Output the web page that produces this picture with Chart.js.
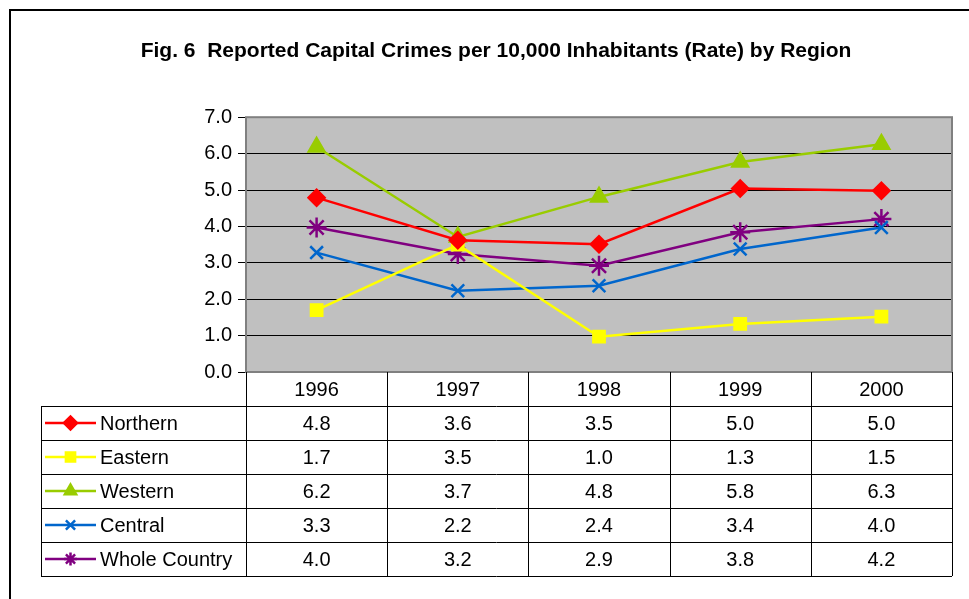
<!DOCTYPE html>
<html>
<head>
<meta charset="utf-8">
<script src="https://cdn.jsdelivr.net/npm/chart.js@4.4.0/dist/chart.umd.min.js"></script>
<style>
  html, body { margin: 0; padding: 0; background: #fff; }
  #wrap { width: 969px; height: 599px; }
</style>
</head>
<body>
<div id="wrap"><canvas id="crimeChart" width="969" height="599"></canvas></div>
<script>
var years = ['1996', '1997', '1998', '1999', '2000'];
var northern = [4.79, 3.62, 3.51, 5.04, 4.98];
var eastern = [1.70, 3.50, 0.97, 1.32, 1.52];
var western = [6.18, 3.71, 4.81, 5.77, 6.26];
var central = [3.28, 2.23, 2.37, 3.38, 3.97];
var wholeCountry = [3.97, 3.24, 2.92, 3.84, 4.20];
var yTicks = [0, 1, 2, 3, 4, 5, 6, 7];

var FONT = '"Liberation Sans", Arial, sans-serif';

function series(label, values, color, style, radius) {
    return {
        label: label,
        data: values,
        borderColor: color,
        backgroundColor: color,
        borderWidth: 2.5,
        pointStyle: style,
        pointRadius: radius,
        pointBorderColor: color,
        pointBackgroundColor: color,
        pointBorderWidth: 2.5,
        tension: 0
    };
}

var datasets = [
    series('Northern', northern, '#FF0000', 'rectRot', 8),
    series('Eastern', eastern, '#FFFF00', 'rect', 8),
    series('Western', western, '#99CC00', 'triangle', 9),
    series('Central', central, '#0066CC', 'crossRot', 9),
    series('Whole Country', wholeCountry, '#800080', 'star', 10)
];

// gray plot area, frame around the whole figure
var backdrop = {
    id: 'backdrop',
    beforeDraw: function (chart) {
        var c = chart.ctx, a = chart.chartArea;
        c.save();
        c.fillStyle = '#fff';
        c.fillRect(0, 0, chart.width, chart.height);
        c.strokeStyle = '#000';
        c.lineWidth = 2;
        c.strokeRect(10, 10, chart.width + 20, chart.height + 20);
        c.fillStyle = '#C0C0C0';
        c.fillRect(a.left, a.top, a.right - a.left, a.bottom - a.top);
        c.restore();
    },
    afterDatasetsDraw: function (chart) {
        var c = chart.ctx, a = chart.chartArea;
        c.save();
        c.strokeStyle = '#808080';
        c.lineWidth = 2;
        c.strokeRect(a.left, a.top, a.right - a.left, a.bottom - a.top);
        c.restore();
    }
};

// excel style data table under the plot
var dataTable = {
    id: 'dataTable',
    afterDraw: function (chart) {
        var c = chart.ctx, a = chart.chartArea, xs = chart.scales.x;
        var colW = xs.getPixelForValue(1) - xs.getPixelForValue(0);
        var top = a.bottom, rowH = 34, legLeft = 41;
        var nRows = chart.data.datasets.length;
        var bottom = top + rowH * (nRows + 1);
        c.save();
        c.font = '20px ' + FONT;
        c.fillStyle = '#000';
        c.textAlign = 'center';
        c.textBaseline = 'middle';
        years.forEach(function (y, i) {
            c.fillText(y, xs.getPixelForValue(i), top + rowH / 2 + 1);
        });
        chart.data.datasets.forEach(function (ds, j) {
            var cy = top + rowH * (j + 1.5);
            c.fillStyle = '#000';
            ds.data.forEach(function (v, i) {
                c.fillText(v.toFixed(1), xs.getPixelForValue(i), cy + 1);
            });
            c.strokeStyle = ds.borderColor;
            c.fillStyle = ds.borderColor;
            c.lineWidth = 2.5;
            c.beginPath();
            c.moveTo(45, cy);
            c.lineTo(96, cy);
            c.stroke();
            Chart.helpers.drawPoint(c, {
                pointStyle: ds.pointStyle,
                radius: 6.5,
                rotation: 0,
                borderWidth: 2
            }, 70.5, cy);
            c.fillStyle = '#000';
            c.textAlign = 'left';
            c.fillText(ds.label, 100, cy + 1);
            c.textAlign = 'center';
        });
        c.strokeStyle = '#000';
        c.lineWidth = 1;
        c.beginPath();
        for (var r = 1; r <= nRows + 1; r++) {
            var yy = Math.round(top + rowH * r) + 0.5;
            c.moveTo(legLeft, yy);
            c.lineTo(a.right, yy);
        }
        c.moveTo(legLeft + 0.5, top + rowH);
        c.lineTo(legLeft + 0.5, bottom);
        for (var k = 0; k <= years.length; k++) {
            var xx = Math.round(a.left + colW * k) + 0.5;
            c.moveTo(xx, top);
            c.lineTo(xx, bottom);
        }
        c.stroke();
        c.restore();
    }
};

var ctx = document.getElementById('crimeChart').getContext('2d');
ctx.canvas.style.width = '969px';
ctx.canvas.style.height = '599px';

var crimeChart = new Chart(ctx, {
    type: 'line',
    data: {
        labels: years,
        datasets: datasets
    },
    options: {
        responsive: false,
        animation: false,
        devicePixelRatio: 1,
        layout: {
            padding: { left: 40, right: 17, top: 0, bottom: 227 }
        },
        scales: {
            x: {
                type: 'category',
                offset: true,
                display: false
            },
            y: {
                min: 0,
                max: 7,
                afterBuildTicks: function (scale) {
                    scale.ticks = yTicks.map(function (v) { return { value: v }; });
                },
                afterFit: function (scale) {
                    scale.width = 206;
                },
                ticks: {
                    padding: 6,
                    color: '#000',
                    font: { family: FONT, size: 20 },
                    callback: function (v) { return Number(v).toFixed(1); }
                },
                grid: {
                    color: '#000',
                    lineWidth: 1,
                    tickLength: 8,
                    drawOnChartArea: true
                },
                border: { display: false }
            }
        },
        plugins: {
            legend: { display: false },
            tooltip: { enabled: false },
            title: {
                display: true,
                text: 'Fig. 6  Reported Capital Crimes per 10,000 Inhabitants (Rate) by Region',
                color: '#000',
                font: { family: FONT, size: 21, weight: 'bold' },
                padding: { top: 39, bottom: 53 }
            }
        }
    },
    plugins: [backdrop, dataTable]
});
</script>
</body>
</html>
